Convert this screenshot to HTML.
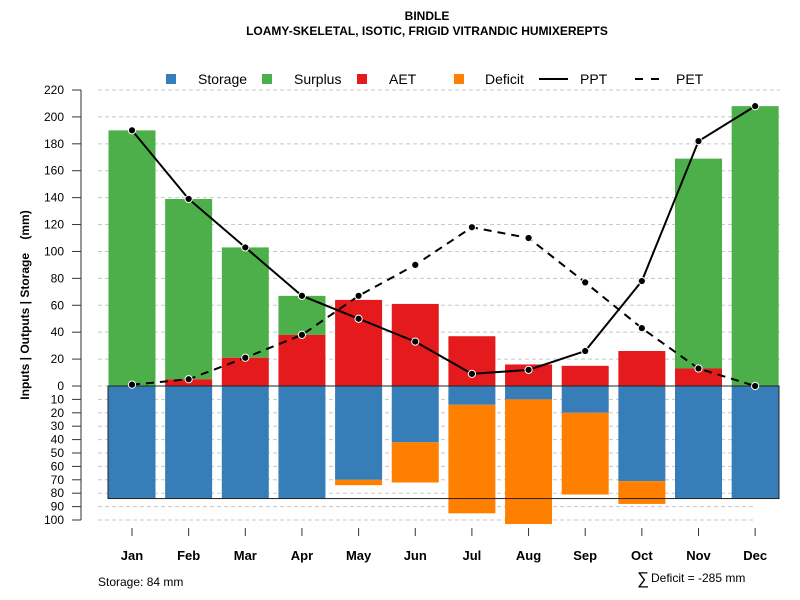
<!DOCTYPE html>
<html><head><meta charset="utf-8"><style>
body{margin:0;background:#fff}
svg{display:block;font-family:"Liberation Sans",sans-serif}
</style></head><body>
<svg id="c" width="800" height="600" xmlns="http://www.w3.org/2000/svg">
<text x="427" y="20" text-anchor="middle" font-size="12" font-weight="bold">BINDLE</text>
<text x="427" y="35" text-anchor="middle" font-size="12" font-weight="bold">LOAMY-SKELETAL, ISOTIC, FRIGID VITRANDIC HUMIXEREPTS</text>
<g id="grid"></g>
<g id="bars"></g>
<g id="lines"></g>
<g id="axes"></g>
<g id="legend"></g>
<text x="29" y="305" transform="rotate(-90 29 305)" text-anchor="middle" font-size="12" font-weight="bold" xml:space="preserve">Inputs | Outputs | Storage    (mm)</text>
<text x="98" y="586" font-size="12">Storage: 84 mm</text>
<text x="637" y="584" font-size="17">∑</text>
<text x="651" y="582" font-size="12">Deficit = -285 mm</text>
</svg>
<script>
const months=["Jan","Feb","Mar","Apr","May","Jun","Jul","Aug","Sep","Oct","Nov","Dec"];
const ppt=[190,139,103,67,50,33,9,12,26,78,182,208];
const pet=[1,5,21,38,67,90,118,110,77,43,13,0];
const aet=[0,5,21,38,64,61,37,16,15,26,13,0];
const surplus=[190,134,82,29,0,0,0,0,0,0,156,208];
const storage=[84,84,84,84,70,42,14,10,20,71,84,84];
const deficit=[0,0,0,0,4,30,81,93,61,17,0,0];
const upTicks=[0,20,40,60,80,100,120,140,160,180,200,220];
const downTicks=[10,20,30,40,50,60,70,80,90,100];

const NS="http://www.w3.org/2000/svg";
const y0=386, sUp=296/220, sDn=134/100;
const yUp=v=>y0-v*sUp, yDn=v=>y0+v*sDn;
const xc=i=>132+i*56.65, bw=47;
function mk(p,t,a){const e=document.createElementNS(NS,t);for(const k in a)e.setAttribute(k,a[k]);document.getElementById(p).appendChild(e);return e;}

upTicks.forEach(v=>{
 const g=mk('grid','line',{x1:98,x2:780,y1:yUp(v),y2:yUp(v),stroke:'#c8c8c8','stroke-dasharray':'4,3'});
 
 
});
downTicks.forEach(v=>{
 const g=mk('grid','line',{x1:98,x2:756,y1:yDn(v),y2:yDn(v),stroke:'#c8c8c8','stroke-dasharray':'4,3'});
 
 
});

months.forEach((m,i)=>{
 const x=xc(i)-bw/2;
 if(surplus[i]>0){const r=mk('bars','rect',{x:x,y:yUp(aet[i]+surplus[i]),width:bw,height:surplus[i]*sUp,fill:'#4daf4a'});
  
  }
 if(aet[i]>0){const r=mk('bars','rect',{x:x,y:yUp(aet[i]),width:bw,height:aet[i]*sUp,fill:'#e41a1c'});
  
  }
 const s=mk('bars','rect',{x:x,y:y0,width:bw,height:storage[i]*sDn,fill:'#377eb8'});
 
 
 if(deficit[i]>0){const r=mk('bars','rect',{x:x,y:yDn(storage[i]),width:bw,height:deficit[i]*sDn,fill:'#ff7f00'});
  
  }
});
const box=mk('bars','rect',{x:108,y:y0,width:671,height:84*sDn,fill:'none',stroke:'#222','stroke-width':1});



function series(arr,dash,name){
 const pl=mk('lines','polyline',{points:arr.map((v,i)=>xc(i)+','+yUp(v)).join(' '),fill:'none',stroke:'#000','stroke-width':2,'stroke-dasharray':dash});
 
 
 arr.forEach((v,i)=>{const c=mk('lines','circle',{cx:xc(i),cy:yUp(v),r:3.6,fill:'#000',stroke:'#fff','stroke-width':1});
  
  });
}
series(pet,'8,6','pet');
series(ppt,'none','ppt');

const ax=mk('axes','line',{x1:81,x2:81,y1:90,y2:520,stroke:'#777','stroke-width':1.5});


function ytick(y,lab){
 const t=mk('axes','line',{x1:72,x2:81,y1:y,y2:y,stroke:'#333'});
 
 
 const tx=mk('axes','text',{x:64,y:y+4,'text-anchor':'end','font-size':12});tx.textContent=lab;
 
 
}
upTicks.forEach(v=>ytick(yUp(v),v));
downTicks.forEach(v=>ytick(yDn(v),v));
months.forEach((m,i)=>{
 const t=mk('axes','line',{x1:xc(i),x2:xc(i),y1:528,y2:536,stroke:'#333'});
 
 
 const tx=mk('axes','text',{x:xc(i),y:560,'text-anchor':'middle','font-size':13,'font-weight':'bold'});tx.textContent=m;
 
 
});

const leg=[["Storage","#377eb8",166,198],["Surplus","#4daf4a",262,294],["AET","#e41a1c",357,389],["Deficit","#ff7f00",454,485]];
leg.forEach(l=>{
 const r=mk('legend','rect',{x:l[2],y:74,width:10,height:10,fill:l[1]});
 
 
 const t=mk('legend','text',{x:l[3],y:84,'font-size':14});t.textContent=l[0];
 
 
});
const l1=mk('legend','line',{x1:539,x2:568,y1:79,y2:79,stroke:'#000','stroke-width':2});


const t1=mk('legend','text',{x:580,y:84,'font-size':14});t1.textContent='PPT';


const l2=mk('legend','line',{x1:635,x2:659,y1:79,y2:79,stroke:'#000','stroke-width':2,'stroke-dasharray':'8,8'});


const t2=mk('legend','text',{x:676,y:84,'font-size':14});t2.textContent='PET';


</script>
</body></html>
